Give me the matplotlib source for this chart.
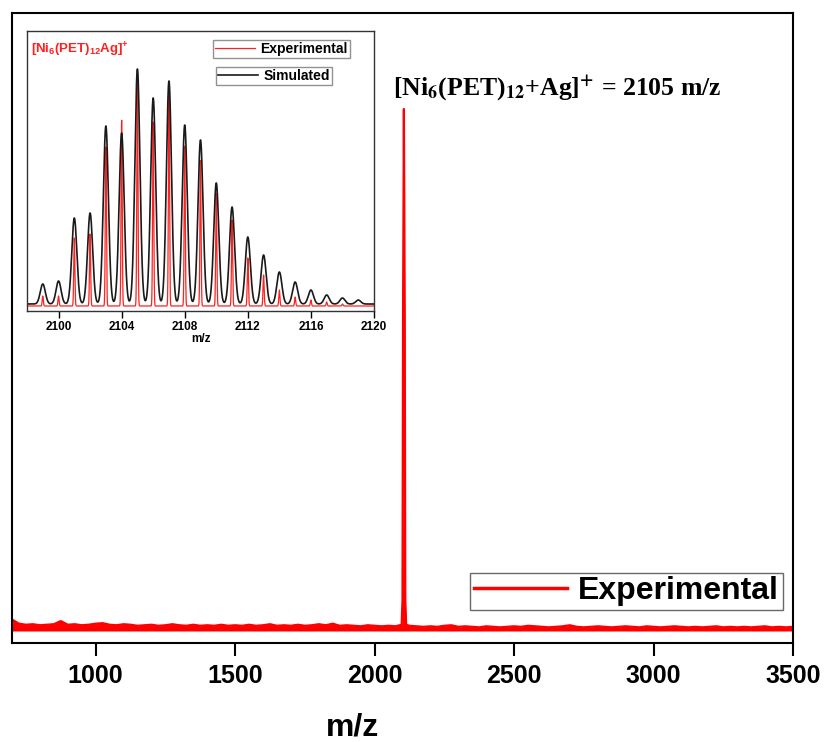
import numpy as np
import matplotlib
matplotlib.use('Agg')
import matplotlib.pyplot as plt

plt.rcParams['font.family'] = ['Liberation Sans', 'DejaVu Sans']
plt.rcParams['mathtext.fontset'] = 'custom'
plt.rcParams['mathtext.rm'] = 'Liberation Sans:bold'
plt.rcParams['mathtext.bf'] = 'Liberation Sans:bold'

# main spectrum: baseline noise on a 25 m/z grid (x1000), plus the cluster peak
noise_start, noise_stop, noise_step = 700, 3500, 25
noise_vals = [22, 14, 12, 13, 11, 12, 13, 19, 12, 13, 11, 12,
              14, 15, 12, 11, 13, 12, 10, 11, 12, 10, 11, 13,
              11, 10, 12, 10, 11, 10, 12, 10, 11, 10, 12, 10,
              11, 13, 10, 11, 10, 12, 10, 11, 13, 11, 14, 10,
              11, 10, 9, 11, 10, 9, 10, 9, 10, 10, 9, 8,
              9, 8, 10, 11, 8, 9, 8, 7, 9, 8, 7, 8,
              9, 8, 10, 9, 8, 7, 8, 9, 11, 8, 7, 8,
              9, 8, 7, 8, 9, 8, 7, 9, 8, 7, 8, 9,
              8, 7, 8, 7, 8, 9, 7, 8, 7, 8, 7, 8,
              9, 7, 8, 7, 8]
peak_mz = [2097, 2100, 2102, 2105, 2108, 2110, 2113]
peak_int = [12, 60, 600, 1000, 600, 60, 12]

# inset: isotope pattern, heights read in inset pixels above baseline
iso_mz_sim = list(range(2099, 2120))
iso_sim = [20, 23, 86, 91, 178, 171, 235, 206, 223, 179, 164,
           121, 97, 67, 49, 32, 22, 14, 9, 6, 4]
iso_mz_exp = list(range(2099, 2119))
iso_exp = [10, 10, 68, 72, 159, 186, 232, 184, 211, 160, 146,
           113, 86, 48, 31, 16, 9, 6, 4, 2]

main_ticks = [1000, 1500, 2000, 2500, 3000, 3500]
inset_ticks = [2100, 2104, 2108, 2112, 2116, 2120]

# build main trace
grid = np.arange(noise_start, noise_stop + 1, noise_step)
vals = np.array(noise_vals) / 1000.0
keep = np.abs(grid - 2105) > 15
mz = np.concatenate([grid[keep], peak_mz])
inten = np.concatenate([vals[keep], np.array(peak_int) / 1000.0])
order = np.argsort(mz)
mz, inten = mz[order], inten[order]

W, H = 826, 742
fig = plt.figure(figsize=(W / 100, H / 100), dpi=100)
ax = fig.add_axes([12 / W, (H - 643) / H, 781 / W, 630 / H])

red = '#ff0000'
ax.fill_between(mz, 0, inten, color=red, lw=0)
ax.plot(mz, inten, color=red, lw=1.6, label='Experimental')
ax.set_xlim(700, 3500)
ax.set_ylim(-0.023, 1.184)
ax.set_yticks([])
ax.set_xticks(main_ticks)
ax.tick_params(axis='x', direction='out', length=9, width=1.5, labelsize=18, pad=6)
for lab in ax.get_xticklabels():
    lab.set_fontweight('bold')
for sp in ax.spines.values():
    sp.set_linewidth(1.5)

leg = ax.legend(loc='lower right', bbox_to_anchor=(0.987, 0.052), borderaxespad=0,
                prop={'size': 23, 'weight': 'bold'}, handlelength=2.9,
                handletextpad=0.35, borderpad=0.12, fancybox=False)
leg.get_frame().set_edgecolor('#444444')
leg.get_frame().set_linewidth(1.0)
leg.get_lines()[0].set_linewidth(2.5)

fig.text(393 / W, (H - 95) / H,
         r'[Ni$_{\mathbf{6}}$(PET)$_{\mathbf{12}}$+Ag]$^{\mathbf{+}}$ = 2105 m/z',
         family='Liberation Serif', weight='bold', fontsize=18.5,
         math_fontfamily='stix', va='baseline', ha='left')

fig.text(353 / W, 6 / H, 'm/z', fontsize=23, weight='bold', ha='center', va='baseline')

# inset
ins = fig.add_axes([27 / W, (H - 311) / H, 347 / W, 280 / H])
x = np.linspace(2098, 2120, 4000)
sim = np.zeros_like(x)
for m, h in zip(iso_mz_sim, iso_sim):
    sim += h * np.exp(-(x - m) ** 2 / (2 * 0.16 ** 2))
exp_ = np.zeros_like(x)
for m, h in zip(iso_mz_exp, iso_exp):
    exp_ += h * np.exp(-(x - m) ** 2 / (2 * 0.035 ** 2))
exp_ -= 2

l1, = ins.plot(x, exp_, color='#ff2020', lw=0.9, label='Experimental')
l2, = ins.plot(x, sim, color='#1a1a1a', lw=1.2, label='Simulated')
ins.set_xlim(2098, 2120)
ins.set_ylim(-7, 273)
ins.set_yticks([])
ins.set_xticks(inset_ticks)
ins.tick_params(axis='x', direction='out', length=5, width=1, labelsize=8.5, pad=2)
for lab in ins.get_xticklabels():
    lab.set_fontweight('bold')
ins.set_xlabel('m/z', fontsize=8.5, weight='bold', labelpad=0)
for sp in ins.spines.values():
    sp.set_linewidth(1.0)
    sp.set_color('#333333')

lg1 = ins.legend(handles=[l1], loc='upper right', bbox_to_anchor=(0.931, 0.968),
                 borderaxespad=0, prop={'size': 10, 'weight': 'bold'},
                 handlelength=2.9, handletextpad=0.4, borderpad=0.15, fancybox=False)
lg1.get_frame().set_edgecolor('#777777')
ins.add_artist(lg1)
lg2 = ins.legend(handles=[l2], loc='upper right', bbox_to_anchor=(0.879, 0.871),
                 borderaxespad=0, prop={'size': 10, 'weight': 'bold'},
                 handlelength=2.9, handletextpad=0.4, borderpad=0.15, fancybox=False)
lg2.get_frame().set_edgecolor('#777777')

ins.text(0.012, 0.918, r'[Ni$_{\mathbf{6}}$(PET)$_{\mathbf{12}}$Ag]$^{\mathbf{+}}$',
         transform=ins.transAxes, color='#ff2020', fontsize=9.5, weight='bold',
         va='baseline', ha='left')

fig.savefig('out.png', dpi=100)
